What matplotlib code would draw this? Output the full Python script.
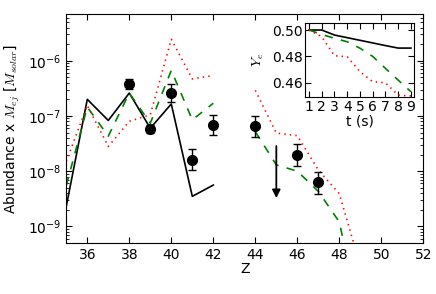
import numpy as np
import matplotlib
matplotlib.use('Agg')
import matplotlib.pyplot as plt

plt.rcParams['font.family'] = 'DejaVu Sans'
plt.rcParams['font.size'] = 10
plt.rcParams['mathtext.fontset'] = 'cm'
plt.rcParams['xtick.direction'] = 'in'
plt.rcParams['ytick.direction'] = 'in'
plt.rcParams['xtick.top'] = True
plt.rcParams['ytick.right'] = True
plt.rcParams['lines.scale_dashes'] = False
plt.rcParams['lines.dashed_pattern'] = [6, 6]
plt.rcParams['lines.dotted_pattern'] = [1, 3]

nan = np.nan
Z = [35, 36, 37, 38, 39, 40, 41, 42, 43, 44, 45, 46, 47, 48, 49]
black = [2.3e-9, 2.0e-7, 8.3e-8, 2.6e-7, 6.0e-8, 1.65e-7, 3.5e-9, 5.6e-9,
         nan, nan, nan, nan, nan, nan, nan]
green = [5.5e-9, 1.45e-7, 4.3e-8, 2.6e-7, 7.4e-8, 6.7e-7, 8.5e-8, 1.7e-7,
         nan, 5.2e-8, 1.3e-8, 1.0e-8, 4.3e-9, 1.2e-9, 2e-11]
red = [1.5e-8, 1.55e-7, 2.8e-8, 8.0e-8, 1.05e-7, 2.45e-6, 4.7e-7, 5.4e-7,
       nan, 2.9e-7, 4.9e-8, 4.4e-8, 1.05e-8, 3.9e-9, 1.9e-10]

# observations
obs_Z = [38, 39, 40, 41, 42, 44, 46, 47]
obs_val = [3.8e-7, 5.9e-8, 2.6e-7, 1.6e-8, 6.9e-8, 6.5e-8, 2.0e-8, 6.3e-9]
obs_hi = [4.7e-7, 6.9e-8, 3.8e-7, 2.5e-8, 1.02e-7, 9.8e-8, 3.1e-8, 9.8e-9]
obs_lo = [3.1e-7, 4.9e-8, 1.8e-7, 1.07e-8, 4.45e-8, 4.2e-8, 1.25e-8, 3.9e-9]
lim_Z = 45
lim_top = 3.2e-8
lim_bot = 2.9e-9

# inset Ye(t)
t = [1, 2, 3, 4, 5, 6, 7, 8, 9]
ye_black = [0.500, 0.500, 0.4962, 0.4942, 0.4922, 0.4902, 0.4882, 0.4863, 0.4863]
ye_green = [0.500, 0.4967, 0.4937, 0.4911, 0.4862, 0.4800, 0.4709, 0.4620, 0.4532]
ye_red = [0.500, 0.4949, 0.4805, 0.4797, 0.4684, 0.4608, 0.4600, 0.4506, 0.4500]

fig = plt.figure(figsize=(4.36, 2.94), dpi=100)
ax = fig.add_axes([0.152, 0.1735, 0.819, 0.7785])
ax.plot(Z, black, 'k-', lw=1.2)
ax.plot(Z, green, 'g--', lw=1.2)
ax.plot(Z, red, 'r:', lw=1.2)
yerr = [np.array(obs_val) - np.array(obs_lo), np.array(obs_hi) - np.array(obs_val)]
ax.errorbar(obs_Z, obs_val, yerr=yerr, fmt='ko', ms=7, capsize=3, elinewidth=1, capthick=1)
ax.annotate('', xy=(lim_Z, lim_bot), xytext=(lim_Z, lim_top),
            arrowprops=dict(arrowstyle='-|>', color='k', lw=1.3, mutation_scale=12))
ax.set_yscale('log')
ax.set_xlim(35, 52)
ax.set_ylim(5e-10, 7e-6)
ax.set_xticks(range(36, 53, 2))
ax.set_yticks([1e-9, 1e-8, 1e-7, 1e-6])
ax.set_xlabel('Z', labelpad=0)
ax.set_ylabel(r'Abundance x $M_{ej}$ [$M_{solar}$]')
ax.tick_params(which='major', length=4)
ax.tick_params(which='minor', length=2)

ins = fig.add_axes([0.700, 0.671, 0.250, 0.252])
ins.plot(t, ye_black, 'k-', lw=1.2)
ins.plot(t, ye_green, 'g--', lw=1.2)
ins.plot(t, ye_red, 'r:', lw=1.2)
ins.set_xlim(0.7, 9.26)
ins.set_ylim(0.4494, 0.5056)
ins.set_xticks(t)
ins.set_yticks([0.46, 0.48, 0.50])
ins.set_yticklabels(['0.46', '0.48', '0.50'])
ins.set_xlabel('t (s)', labelpad=1)
ins.set_ylabel(r'$Y_e$', labelpad=4)
ins.tick_params(length=4, pad=2)

fig.savefig('out.png', dpi=100)
